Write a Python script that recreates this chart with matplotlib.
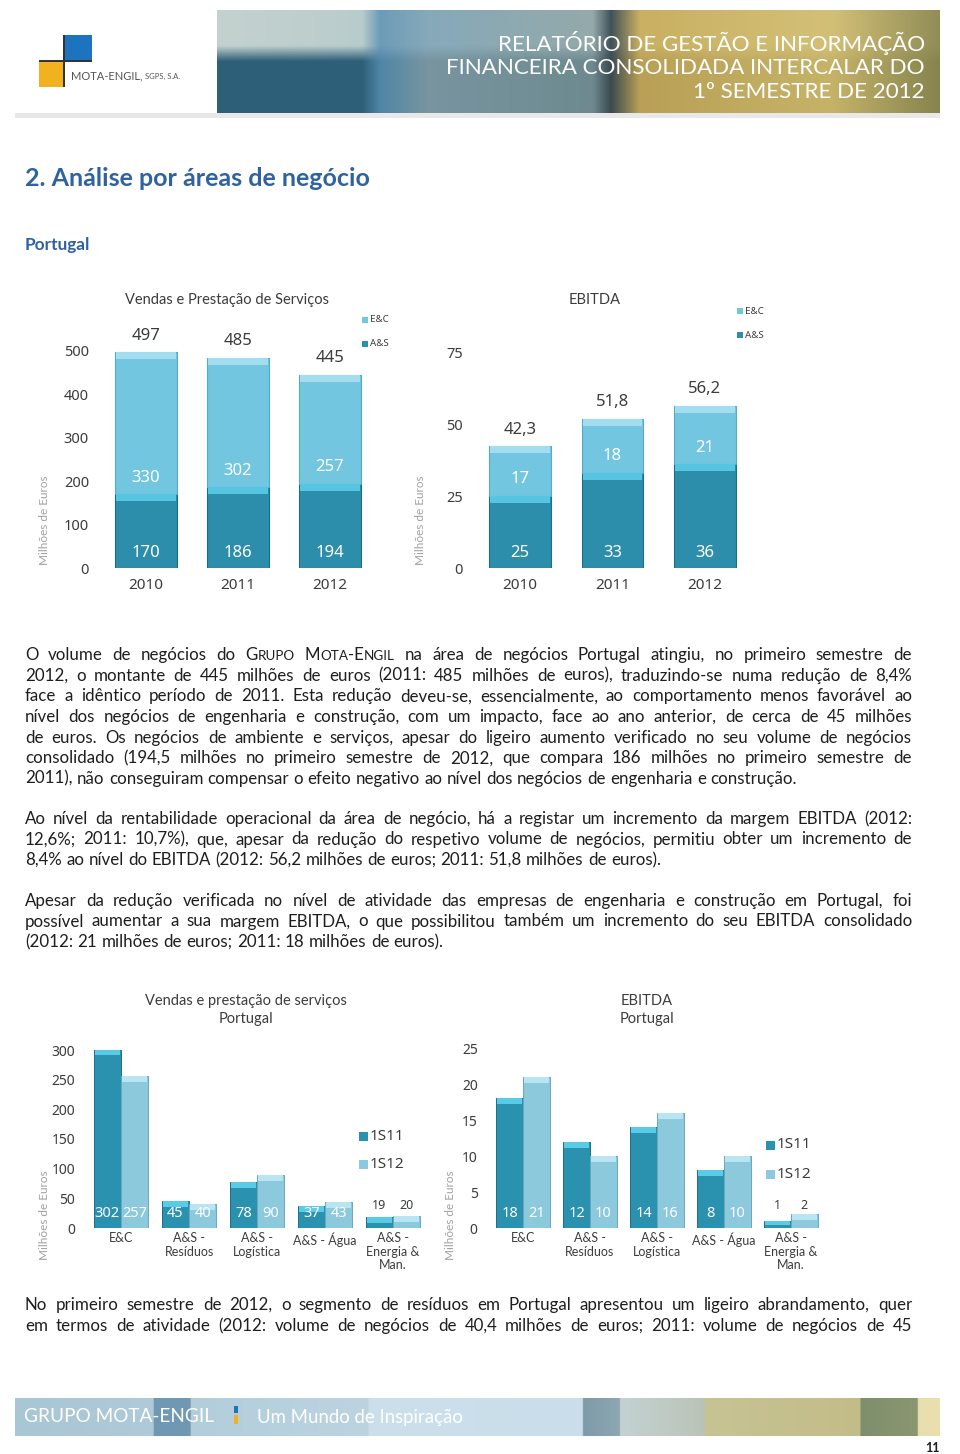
import numpy as np
import matplotlib
matplotlib.use('Agg')
import matplotlib.pyplot as plt
import matplotlib.patches as mpatches
from matplotlib.colors import to_rgb

# --- dados dos gráficos ---
anos = ['2010', '2011', '2012']
vendas_as = [170, 186, 194]
vendas_ec = [330, 302, 257]
vendas_total = [497, 485, 445]
ebitda_as = [25, 33, 36]
ebitda_ec = [17, 18, 21]
ebitda_total = [42.3, 51.8, 56.2]

segmentos = ['E&C', 'A&S -\nResíduos', 'A&S -\nLogística', 'A&S - Água', 'A&S -\nEnergia &\nMan.']
vps_1s11 = [302, 45, 78, 37, 19]
vps_1s12 = [257, 40, 90, 43, 20]
ebitda_1s11 = [18, 12, 14, 8, 1]
ebitda_1s12 = [21, 10, 16, 10, 2]

W, H = 960, 1454
fig = plt.figure(figsize=(W / 100, H / 100), dpi=100)
renderer = fig.canvas.get_renderer()

NARROW = ['Lato', 'DejaVu Sans']
BODY = ['Lato', 'DejaVu Sans']
NUM = ['Noto Sans', 'DejaVu Sans']
TXT = '#3c3c3c'
AZUL = '#2F62A0'

EC, EC_EDGE, EC_CAP = '#73C6E0', '#58A9C2', '#A3DDEF'
AS, AS_EDGE, AS_CAP = '#2C8EAA', '#1D6D84', '#56C5E2'
P11, P11_EDGE, P11_CAP = '#2A91AE', '#1D6E85', '#5ACBE7'
P12, P12_EDGE, P12_CAP = '#8CC9DD', '#6AA8BD', '#B9E5F2'


def ax_px(x0, y0, x1, y1):
    return fig.add_axes([x0 / W, 1 - y1 / H, (x1 - x0) / W, (y1 - y0) / H])


def ftext(x, y, s, **kw):
    return fig.text(x / W, 1 - y / H, s, **kw)


def rect_px(x0, y0, x1, y1, color, **kw):
    r = mpatches.Rectangle((x0 / W, 1 - y1 / H), (x1 - x0) / W, (y1 - y0) / H,
                           transform=fig.transFigure, facecolor=color, edgecolor='none', **kw)
    fig.add_artist(r)
    return r


def medir(s, size, family, weight='normal'):
    t = fig.text(0, 0, s, fontsize=size, family=family, weight=weight)
    w = t.get_window_extent(renderer).width
    t.remove()
    return w


def tam_para(s, largura, family, weight='normal'):
    # tamanho de letra que faz o texto ocupar a largura pedida
    return 10 * largura / medir(s, 10, family, weight)


def gradiente(stops, cores, n=500):
    xs = np.linspace(0, 1, n)
    rgb = np.array([to_rgb(c) for c in cores])
    return np.stack([np.interp(xs, stops, rgb[:, k]) for k in range(3)], axis=-1)


# --- cabeçalho ---
rect_px(15, 113, 940, 118, '#e8e8e8')
rect_px(15, 10, 217, 113, 'white')
stops_h = [0, 0.2, 0.225, 0.29, 0.52, 0.545, 0.585, 0.85, 1]
topo = gradiente(stops_h, ['#C4D2CF', '#B9CCCC', '#6C9BB8', '#86A9BA', '#94A9AA',
                           '#40525A', '#C9B062', '#D3C077', '#918D57'])
base = gradiente(stops_h, ['#2F6079', '#2E5F78', '#4F86A6', '#7895A0', '#6E8A90',
                           '#3A4A50', '#B9A056', '#C6B368', '#86844F'])
v = np.clip((np.linspace(0, 1, 60) - 0.35) / 0.15, 0, 1)[:, None, None]
hax = ax_px(217, 10, 940, 113)
hax.imshow(topo[None] * (1 - v) + base[None] * v, aspect='auto')
hax.axis('off')

rect_px(64, 35, 92, 61, '#1E73BE')
rect_px(39, 61, 65, 87, '#F2B11E')
rect_px(63, 35, 65, 87, '#333333')
rect_px(39, 60, 92, 62, '#333333')
ftext(71, 76, 'MOTA-ENGIL,', fontsize=8, color='#555555', family=NARROW, va='center')
ftext(71 + medir('MOTA-ENGIL, ', 8, NARROW), 76, 'SGPS, S.A.', fontsize=5.5,
      color='#555555', family=NARROW, va='center')

cab = ['RELATÓRIO DE GESTÃO E INFORMAÇÃO', 'FINANCEIRA CONSOLIDADA INTERCALAR DO', '1º SEMESTRE DE 2012']
tam_cab = tam_para(cab[1], 475, NARROW)
for y, s in zip([43, 68, 92], cab):
    ftext(925, y, s, fontsize=tam_cab, color='white', family=NARROW,
          ha='right', va='center')

# --- títulos ---
tit = '2. Análise por áreas de negócio'
ftext(25, 179, tit, fontsize=tam_para(tit, 345, NARROW, 'bold'), color=AZUL,
      family=NARROW, weight='bold', va='center')
ftext(25, 245, 'Portugal', fontsize=tam_para('Portugal', 65, NARROW, 'bold'), color=AZUL,
      family=NARROW, weight='bold', va='center')


def estilo(ax):
    for s in ax.spines.values():
        s.set_visible(False)
    ax.set_facecolor('none')
    ax.tick_params(length=0, colors=TXT)


def fmt(v):
    return f'{v:g}'.replace('.', ',')


def empilhado(ax, as_vals, ec_vals, totais, ymax, ticks, altura_px):
    x = np.arange(len(anos))
    w = 0.67
    topo_as = np.array(as_vals, dtype=float)
    ec_h = np.array(totais) - topo_as
    ax.bar(x, topo_as, w, color=AS, edgecolor=AS_EDGE, lw=0.8)
    ax.bar(x, ec_h, w, bottom=topo_as, color=EC, edgecolor=EC_EDGE, lw=0.8)
    cap = 7 * ymax / altura_px
    ax.bar(x, cap, w * 0.96, bottom=topo_as - cap, color=AS_CAP, lw=0)
    ax.bar(x, cap, w * 0.96, bottom=np.array(totais) - cap, color=EC_CAP, lw=0)
    for xi, a, e, t in zip(x, as_vals, ec_vals, totais):
        ax.annotate(fmt(a), (xi, 0), xytext=(0, 11), textcoords='offset points',
                    ha='center', va='center', color='white', fontsize=12, family=NUM)
        ax.annotate(fmt(e), (xi, a), xytext=(0, 12), textcoords='offset points',
                    ha='center', va='center', color='white', fontsize=12, family=NUM)
        ax.annotate(fmt(t), (xi, t), xytext=(0, 12), textcoords='offset points',
                    ha='center', va='center', color=TXT, fontsize=12, family=NUM)
    ax.set_xlim(-0.5, len(anos) - 0.5)
    ax.set_ylim(0, ymax)
    ax.set_yticks(ticks)
    ax.set_xticks(x)
    ax.set_xticklabels(anos, fontsize=11, family=NUM)
    ax.tick_params(axis='y', pad=8, labelsize=10.5)
    ax.tick_params(axis='x', pad=7)
    estilo(ax)


def agrupado(ax, v11, v12, ymax, ticks, altura_px):
    x = np.arange(len(segmentos))
    w = 0.4
    cap = 6 * ymax / altura_px
    px_un = altura_px / ymax
    for off, vals, c, ce, cc in [(-w / 2, v11, P11, P11_EDGE, P11_CAP),
                                  (w / 2, v12, P12, P12_EDGE, P12_CAP)]:
        vals = np.array(vals, dtype=float)
        ax.bar(x + off, vals, w, color=c, edgecolor=ce, lw=0.7)
        ax.bar(x + off, np.minimum(cap, vals * 0.6), w * 0.94,
               bottom=vals - np.minimum(cap, vals * 0.6), color=cc, lw=0)
        for xi, v in zip(x + off, vals):
            if v * px_un < 20:
                ax.annotate(fmt(v), (xi, 0), xytext=(0, 16), textcoords='offset points',
                            ha='center', va='center', color=TXT, fontsize=9, family=NUM)
            else:
                ax.annotate(fmt(v), (xi, 0), xytext=(0, 10.5), textcoords='offset points',
                            ha='center', va='center', color='white', fontsize=10.5, family=NUM)
    ax.set_xlim(-0.5, len(segmentos) - 0.5)
    ax.set_ylim(0, ymax)
    ax.set_yticks(ticks)
    ax.set_xticks(x)
    ax.set_xticklabels(segmentos, fontsize=9, family=BODY, va='top', linespacing=1.15)
    ax.tick_params(axis='y', pad=8.5, labelsize=10)
    ax.tick_params(axis='x', pad=3)
    estilo(ax)


def legenda(x, ys, nomes, cores, tam, size):
    for y, n, c in zip(ys, nomes, cores):
        rect_px(x, y - tam / 2, x + tam, y + tam / 2, c)
        ftext(x + tam + 2, y, n, fontsize=size, color=TXT, family=NUM, va='center')


def ylabel(x, y):
    ftext(x, y, 'Milhões de Euros', fontsize=8.5, color='#a0a0a0', family=BODY,
          rotation=90, ha='center', va='center')


# --- gráfico 1: vendas ---
ax1 = ax_px(100, 351, 376, 568)
empilhado(ax1, vendas_as, vendas_ec, vendas_total, 500, [0, 100, 200, 300, 400, 500], 217)
for lab in ax1.get_yticklabels():
    lab.set_family(NUM)
ftext(227, 300, 'Vendas e Prestação de Serviços', fontsize=10.5, color=TXT, family=BODY,
      ha='center', va='center')
legenda(362, [320, 344], ['E&C', 'A&S'], [EC, AS], 6, 7)
ylabel(45, 520)

# --- gráfico 2: EBITDA ---
ax2 = ax_px(474, 352, 751, 568)
empilhado(ax2, ebitda_as, ebitda_ec, ebitda_total, 75, [0, 25, 50, 75], 216)
for lab in ax2.get_yticklabels():
    lab.set_family(NUM)
ftext(595, 300, 'EBITDA', fontsize=10.5, color=TXT, family=BODY, ha='center', va='center')
legenda(737, [311, 335], ['E&C', 'A&S'], [EC, AS], 6, 7)
ylabel(420, 520)

# --- gráfico 3: vendas por segmento ---
ax3 = ax_px(87, 1050, 427, 1228)
agrupado(ax3, vps_1s11, vps_1s12, 300, [0, 50, 100, 150, 200, 250, 300], 178)
for lab in ax3.get_yticklabels():
    lab.set_family(NUM)
ftext(246, 1001, 'Vendas e prestação de serviços', fontsize=10.5, color=TXT, family=BODY,
      ha='center', va='center')
ftext(246, 1019, 'Portugal', fontsize=10.5, color=TXT, family=BODY, ha='center', va='center')
legenda(359, [1136, 1164], ['1S11', '1S12'], [P11, P12], 9, 11)
ylabel(45, 1215)

# --- gráfico 4: EBITDA por segmento ---
ax4 = ax_px(489.5, 1048, 824.5, 1228)
agrupado(ax4, ebitda_1s11, ebitda_1s12, 25, [0, 5, 10, 15, 20, 25], 180)
for lab in ax4.get_yticklabels():
    lab.set_family(NUM)
ftext(647, 1001, 'EBITDA', fontsize=10.5, color=TXT, family=BODY, ha='center', va='center')
ftext(647, 1019, 'Portugal', fontsize=10.5, color=TXT, family=BODY, ha='center', va='center')
legenda(766, [1145, 1174], ['1S11', '1S12'], [P11, P12], 9, 11)
ylabel(450, 1215)


# --- texto justificado ---
def pecas(palavra, size):
    if not palavra.startswith('§'):
        return [(palavra, size)]
    out = []
    for ch in palavra[1:]:
        s = size * 0.8 if ch.islower() else size
        c = ch.upper()
        if out and out[-1][1] == s:
            out[-1] = (out[-1][0] + c, s)
        else:
            out.append((c, s))
    return out


def paragrafo(linhas, y0, lead, size, family, x0=25, x1=912, ultima_just=False):
    larg = x1 - x0
    # reduz a letra se alguma linha não couber com espaços normais
    for _ in range(3):
        esp = medir('x x', size, family) - medir('xx', size, family)
        maior = max(sum(medir(t, s, family) for p in ln.split(' ') for t, s in pecas(p, size))
                    + esp * (len(ln.split(' ')) - 1) for ln in linhas)
        if maior <= larg:
            break
        size *= larg / maior * 0.99
    medidas = []
    for ln in linhas:
        ws = []
        for p in ln.split(' '):
            ws.append([(t, s, medir(t, s, family)) for t, s in pecas(p, size)])
        medidas.append(ws)
    for i, ws in enumerate(medidas):
        tot = sum(w for wd in ws for _, _, w in wd)
        just = (i < len(medidas) - 1) or ultima_just
        gap = (larg - tot) / (len(ws) - 1) if just else esp
        x = x0
        y = y0 + i * lead
        for wd in ws:
            for t, s, w in wd:
                ftext(x, y, t, fontsize=s, family=family, color='#1e1e1e', va='baseline')
                x += w
            x += gap


p1 = ['O volume de negócios do §Grupo §Mota-Engil na área de negócios Portugal atingiu, no primeiro semestre de',
      '2012, o montante de 445 milhões de euros (2011: 485 milhões de euros), traduzindo-se numa redução de 8,4%',
      'face a idêntico período de 2011. Esta redução deveu-se, essencialmente, ao comportamento menos favorável ao',
      'nível dos negócios de engenharia e construção, com um impacto, face ao ano anterior, de cerca de 45 milhões',
      'de euros. Os negócios de ambiente e serviços, apesar do ligeiro aumento verificado no seu volume de negócios',
      'consolidado (194,5 milhões no primeiro semestre de 2012, que compara 186 milhões no primeiro semestre de',
      '2011), não conseguiram compensar o efeito negativo ao nível dos negócios de engenharia e construção.']
p2 = ['Ao nível da rentabilidade operacional da área de negócio, há a registar um incremento da margem EBITDA (2012:',
      '12,6%; 2011: 10,7%), que, apesar da redução do respetivo volume de negócios, permitiu obter um incremento de',
      '8,4% ao nível do EBITDA (2012: 56,2 milhões de euros; 2011: 51,8 milhões de euros).']
p3 = ['Apesar da redução verificada no nível de atividade das empresas de engenharia e construção em Portugal, foi',
      'possível aumentar a sua margem EBITDA, o que possibilitou também um incremento do seu EBITDA consolidado',
      '(2012: 21 milhões de euros; 2011: 18 milhões de euros).']
p4 = ['No primeiro semestre de 2012, o segmento de resíduos em Portugal apresentou um ligeiro abrandamento, quer',
      'em termos de atividade (2012: volume de negócios de 40,4 milhões de euros; 2011: volume de negócios de 45']

paragrafo(p1, 660, 20.65, 12.2, BODY)
paragrafo(p2, 824, 20.5, 12.2, BODY)
paragrafo(p3, 906, 20.5, 12.2, BODY)
paragrafo(p4, 1310, 21, 12.2, NARROW, ultima_just=True)

# --- rodapé ---
stops_f = [0, 0.149, 0.150, 0.189, 0.190, 0.382, 0.383, 0.614, 0.615, 0.654, 0.655,
           0.746, 0.747, 0.914, 0.915, 0.977, 0.978, 1]
cores_f = ['#A9C6D4', '#AFCAD8', '#6F98B2', '#7299B2', '#B3CDDB', '#BCD4E0', '#CCE0EC',
           '#C9DEEA', '#7E9BA9', '#8DA7B2', '#C3D2D2', '#BAC3B7', '#C7C393', '#C2BD88',
           '#7F8F6C', '#8A9670', '#E9DEAE', '#E9DEAE']
fax = ax_px(15, 1398, 940, 1436)
fax.imshow(gradiente(stops_f, cores_f)[None], aspect='auto')
fax.axis('off')
rod1, rod2 = 'GRUPO MOTA-ENGIL', 'Um Mundo de Inspiração'
ftext(24, 1417, rod1, fontsize=tam_para(rod1, 188, NARROW), color='white',
      family=NARROW, va='center')
rect_px(234, 1406, 238, 1413, '#1E73BE')
rect_px(234, 1415, 238, 1424, '#F2B11E')
ftext(257, 1417, rod2, fontsize=tam_para(rod2, 206, NARROW), color='white',
      family=NARROW, va='center')
ftext(940, 1448, '11', fontsize=9, color='#1e1e1e', family=NARROW, weight='bold',
      ha='right', va='center')

fig.savefig('out.png', dpi=100)
